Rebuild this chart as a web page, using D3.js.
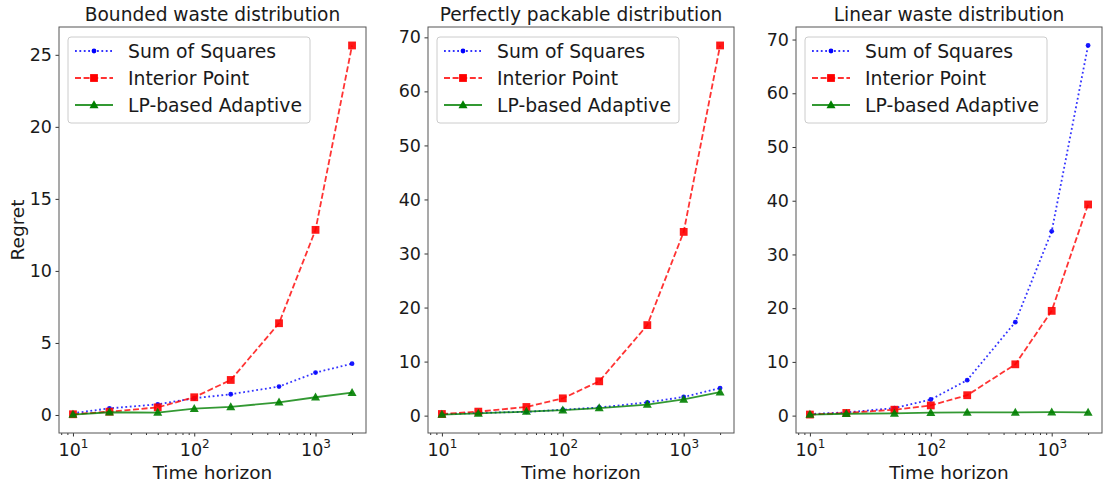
<!DOCTYPE html>
<html><head><meta charset="utf-8">
<script src="https://cdn.jsdelivr.net/npm/d3@7"></script>
<style>body{margin:0;background:#fff}svg{display:block}text{font-family:"DejaVu Sans",sans-serif;fill:#1a1a1a}</style>
</head><body>
<svg id="c" width="1109" height="484"></svg>
<script>
const horizons = [10, 20, 50, 100, 200, 500, 1000, 2000];
const seriesNames = ["Sum of Squares", "Interior Point", "LP-based Adaptive"];
const titles = ["Bounded waste distribution", "Perfectly packable distribution", "Linear waste distribution"];
const boundedSoS = [0.12, 0.46, 0.74, 1.16, 1.44, 1.97, 2.94, 3.56];
const boundedIP  = [0.05, 0.23, 0.53, 1.23, 2.43, 6.37, 12.85, 25.65];
const boundedLP  = [0.03, 0.19, 0.17, 0.44, 0.56, 0.88, 1.23, 1.55];
const packSoS = [0.25, 0.5, 0.7, 1.1, 1.5, 2.45, 3.45, 5.1];
const packIP  = [0.3, 0.74, 1.6, 3.2, 6.35, 16.75, 34.0, 68.5];
const packLP  = [0.2, 0.4, 0.75, 1.0, 1.4, 2.05, 3.0, 4.35];
const linSoS = [0.3, 0.6, 1.4, 3.0, 6.6, 17.4, 34.3, 68.9];
const linIP  = [0.2, 0.5, 1.1, 1.9, 3.8, 9.55, 19.5, 39.3];
const linLP  = [0.2, 0.35, 0.4, 0.55, 0.6, 0.6, 0.65, 0.6];
const yTicks1 = [0, 5, 10, 15, 20, 25];
const yTicks23 = [0, 10, 20, 30, 40, 50, 60, 70];
const xTickValues = [10, 100, 1000];

const panels = [
  {title: titles[0], data: [boundedSoS, boundedIP, boundedLP], yticks: yTicks1, left: 59, right: 366, ylabel: "Regret"},
  {title: titles[1], data: [packSoS, packIP, packLP], yticks: yTicks23, left: 428, right: 734},
  {title: titles[2], data: [linSoS, linIP, linLP], yticks: yTicks23, left: 796, right: 1102}
];
const plotTop = 27, plotBottom = 433;
const styles = [
  {color: "#0000ff", dash: "1.8,2.6", width: 1.8, marker: "dot"},
  {color: "#ff0000", dash: "6,2.6", width: 1.8, marker: "square"},
  {color: "#008000", dash: null, width: 1.8, marker: "tri"}
];
const svg = d3.select("#c");

function drawMarker(g, type, x, y, color) {
  if (type === "dot") g.append("circle").attr("cx", x).attr("cy", y).attr("r", 2.4).attr("fill", color);
  else if (type === "square") g.append("rect").attr("x", x-3.9).attr("y", y-3.9).attr("width", 7.8).attr("height", 7.8).attr("fill", color);
  else g.append("path").attr("d", `M${x},${y-4.7}L${x+4.5},${y+3.3}L${x-4.5},${y+3.3}Z`).attr("fill", color);
}

panels.forEach(p => {
  const lx0 = Math.log10(horizons[0]), lx1 = Math.log10(horizons[horizons.length-1]);
  const padx = (lx1 - lx0) * 0.05;
  const x = d3.scaleLog().domain([Math.pow(10, lx0 - padx), Math.pow(10, lx1 + padx)]).range([p.left, p.right]);
  const all = p.data.flat();
  const ymin = d3.min(all), ymax = d3.max(all), pady = (ymax - ymin) * 0.05;
  const y = d3.scaleLinear().domain([ymin - pady, ymax + pady]).range([plotBottom, plotTop]);
  const g = svg.append("g");

  const minor = [];
  for (let d = 1; d <= 1000; d *= 10) for (let k = 2; k <= 9; k++) { const v = d*k; if (v >= x.domain()[0] && v <= x.domain()[1]) minor.push(v); }
  const xa = g.append("g").attr("transform", `translate(0,${plotBottom})`);
  xa.call(d3.axisBottom(x).tickValues(minor).tickSize(2).tickFormat(""));
  const xm = xa.append("g").call(d3.axisBottom(x).tickValues(xTickValues).tickSize(3.5).tickFormat(""));
  xa.selectAll(".domain").remove();
  xa.selectAll("line").attr("stroke", "#333");
  xm.selectAll(".tick").each(function(v) {
    const t = d3.select(this).append("text").attr("y", 23).attr("text-anchor", "middle").attr("font-size", 17.5).attr("fill", "#1a1a1a");
    t.append("tspan").text("10");
    t.append("tspan").attr("font-size", 12).attr("dy", -8).text(String(Math.round(Math.log10(v))));
  });

  const ya = g.append("g").attr("transform", `translate(${p.left},0)`);
  ya.call(d3.axisLeft(y).tickValues(p.yticks).tickSize(3.5).tickPadding(3.5));
  ya.selectAll(".domain").remove();
  ya.selectAll("line").attr("stroke", "#333");
  ya.selectAll("text").attr("font-size", 17.5).attr("fill", "#1a1a1a");

  g.append("rect").attr("x", p.left).attr("y", plotTop).attr("width", p.right - p.left).attr("height", plotBottom - plotTop)
    .attr("fill", "none").attr("stroke", "#555").attr("stroke-width", 1);

  p.data.forEach((vals, i) => {
    const s = styles[i];
    const line = d3.line().x((d, j) => x(horizons[j])).y(d => y(d));
    g.append("path").datum(vals).attr("d", line).attr("fill", "none").attr("stroke", s.color)
      .attr("stroke-width", s.width).attr("stroke-dasharray", s.dash).attr("stroke-opacity", 0.8);
    const mg = g.append("g").attr("opacity", 0.9);
    vals.forEach((v, j) => drawMarker(mg, s.marker, x(horizons[j]), y(v), s.color));
  });

  g.append("text").attr("x", (p.left + p.right)/2).attr("y", 21).attr("text-anchor", "middle").attr("font-size", 18.6).text(p.title);
  g.append("text").attr("x", (p.left + p.right)/2).attr("y", 478.5).attr("text-anchor", "middle").attr("font-size", 18.5).text("Time horizon");
  if (p.ylabel) g.append("text").attr("transform", `translate(24,${(plotTop+plotBottom)/2}) rotate(-90)`).attr("text-anchor", "middle").attr("font-size", 18.5).text(p.ylabel);

  const lgX = p.left + 9, lgY = 37;
  const lg = g.append("g");
  lg.append("rect").attr("x", lgX).attr("y", lgY).attr("width", 242).attr("height", 86).attr("rx", 3)
    .attr("fill", "#fff").attr("fill-opacity", 0.8).attr("stroke", "#ccc").attr("stroke-width", 1);
  seriesNames.forEach((name, i) => {
    const s = styles[i];
    const ry = lgY + 14 + i * 27;
    lg.append("line").attr("x1", lgX + 7).attr("x2", lgX + 45).attr("y1", ry).attr("y2", ry)
      .attr("stroke", s.color).attr("stroke-width", s.width).attr("stroke-dasharray", s.dash).attr("stroke-opacity", 0.8);
    drawMarker(lg, s.marker, lgX + 26, ry, s.color);
    lg.append("text").attr("x", lgX + 60).attr("y", ry).attr("dy", "0.35em").attr("font-size", 18.8).text(name);
  });
});
</script>
</body></html>
